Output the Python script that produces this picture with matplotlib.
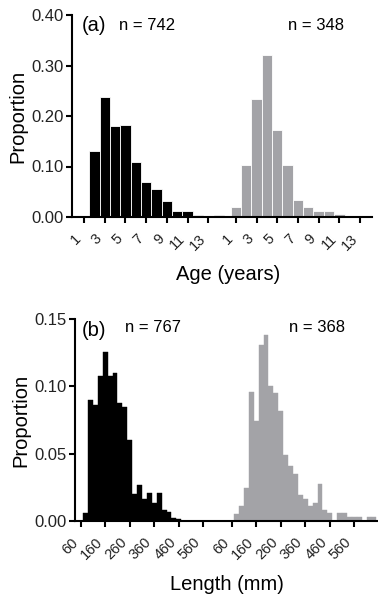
import matplotlib
matplotlib.use("Agg")
import matplotlib.pyplot as plt
import numpy as np

plt.rcParams['font.family'] = ['Liberation Sans', 'DejaVu Sans']

# ---- data ----
ages = [1, 2, 3, 4, 5, 6, 7, 8, 9, 10, 11, 12, 13, 14]
age_black = [0.0, 0.131, 0.237, 0.181, 0.183, 0.109, 0.069, 0.055, 0.032, 0.011, 0.011, 0.003, 0.001, 0.004]
age_gray = [0.019, 0.102, 0.234, 0.321, 0.172, 0.102, 0.034, 0.019, 0.012, 0.012, 0.0066, 0.0, 0.0, 0.0]
age_ticks = [1, 3, 5, 7, 9, 11, 13]
n_age = ["n = 742", "n = 348"]

len_bins = [80, 100, 120, 140, 160, 180, 200, 220, 240, 260, 280, 300, 320, 340, 360,
            380, 400, 420, 440, 460, 480, 500, 520, 540, 560, 580, 600, 620, 640]
len_black = [0.0055, 0.090, 0.086, 0.1075, 0.126, 0.1075, 0.110, 0.088, 0.085, 0.060,
             0.020, 0.0266, 0.016, 0.021, 0.0134, 0.021, 0.008, 0.0067, 0.0022, 0.001,
             0.0, 0.0, 0.0, 0.0, 0.0, 0.0, 0.0, 0.0, 0.0]
len_gray = [0.005, 0.011, 0.0246, 0.0955, 0.074, 0.131, 0.1386, 0.100, 0.095, 0.082,
            0.049, 0.041, 0.0348, 0.019, 0.016, 0.011, 0.0134, 0.0274, 0.008, 0.0055,
            0.0, 0.0055, 0.0055, 0.0025, 0.0025, 0.0025, 0.0, 0.0025, 0.0025]
len_ticks = [60, 160, 260, 360, 460, 560]
n_len = ["n = 767", "n = 368"]

AGE_OFF = 14.65
LEN_OFF = 615.8
GRAY = '#a3a3a7'

fig = plt.figure(figsize=(3.78, 6.03), dpi=100)
ax1 = fig.add_axes([72/378, 1-217/603, (371.7-72)/378, (217-15)/603])
ax2 = fig.add_axes([75/378, 1-520.7/603, (378-75)/378, (520.7-319.3)/603])

def style(ax):
    for s in ['top', 'right']:
        ax.spines[s].set_visible(False)
    for s in ['left', 'bottom']:
        ax.spines[s].set_linewidth(1.5)
    ax.tick_params(axis='both', width=1.5, length=4.5, color='black')
    ax.tick_params(axis='y', labelsize=12, pad=1.5, labelcolor='#222222')
    ax.tick_params(axis='x', labelsize=10.5, pad=6, labelcolor='#222222')

# ---- panel a ----
a = np.array(ages, dtype=float)
ax1.bar(a, age_black, width=1.0, color='black', edgecolor='white', linewidth=0.6)
ax1.bar(a + AGE_OFF, age_gray, width=1.0, color=GRAY, edgecolor='white', linewidth=0.6)
ax1.set_xlim(-0.16, 28.77)
ax1.set_ylim(0, 0.40)
ax1.set_yticks([0, 0.1, 0.2, 0.3, 0.4])
ax1.set_yticklabels([f"{v:.2f}" for v in [0, 0.1, 0.2, 0.3, 0.4]])
at = list(age_ticks) + [t + AGE_OFF for t in age_ticks]
ax1.set_xticks(at)
ax1.set_xticklabels([str(t) for t in age_ticks] * 2, rotation=45, ha='right', va='top')
style(ax1)
ax1.set_ylabel('Proportion', fontsize=14.5, labelpad=3)
ax1.set_xlabel('Age (years)', fontsize=14.5)
ax1.xaxis.set_label_coords(0.52, -0.24)
ax1.text(0.033, 0.95, '(a)', transform=ax1.transAxes, fontsize=14.5, va='center', ha='left')
ax1.text(0.157, 0.95, n_age[0], transform=ax1.transAxes, fontsize=12, va='center', ha='left')
ax1.text(0.72, 0.95, n_age[1], transform=ax1.transAxes, fontsize=12, va='center', ha='left')

# ---- panel b ----
L = np.array(len_bins, dtype=float)
ax2.bar(L, len_black, width=20, color='black', edgecolor='black', linewidth=0.3)
ax2.bar(L + LEN_OFF, len_gray, width=20, color=GRAY, edgecolor=GRAY, linewidth=0.3)
ax2.set_xlim(36.8, 1272.5)
ax2.set_ylim(0, 0.15)
ax2.set_yticks([0, 0.05, 0.10, 0.15])
ax2.set_yticklabels([f"{v:.2f}" for v in [0, 0.05, 0.10, 0.15]])
lt = list(len_ticks) + [t + LEN_OFF for t in len_ticks]
ax2.set_xticks(lt)
ax2.set_xticklabels([str(t) for t in len_ticks] * 2, rotation=45, ha='right', va='top')
style(ax2)
ax2.set_ylabel('Proportion', fontsize=14.5, labelpad=3)
ax2.set_xlabel('Length (mm)', fontsize=14.5)
ax2.xaxis.set_label_coords(0.5, -0.27)
ax2.text(0.022, 0.942, '(b)', transform=ax2.transAxes, fontsize=14.5, va='center', ha='left')
ax2.text(0.165, 0.957, n_len[0], transform=ax2.transAxes, fontsize=12, va='center', ha='left')
ax2.text(0.706, 0.957, n_len[1], transform=ax2.transAxes, fontsize=12, va='center', ha='left')

fig.savefig('out.png', dpi=100)
